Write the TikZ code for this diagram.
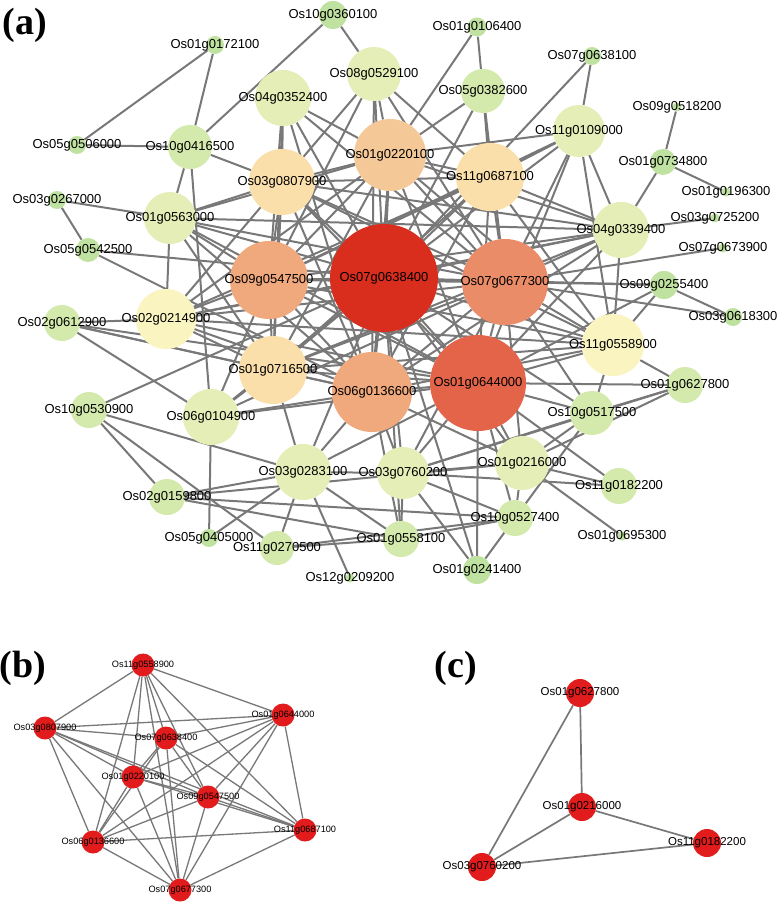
\documentclass[tikz,border=0pt]{standalone}
\usepackage{fontspec}
\setmainfont{Liberation Sans}
\newfontfamily\tnr{Liberation Serif}
\pgfdeclarelayer{bg}
\pgfdeclarelayer{edges}
\pgfsetlayers{bg,edges,main}
\definecolor{c1}{RGB}{217,45,30}
\definecolor{c2}{RGB}{227,100,72}
\definecolor{c3}{RGB}{235,140,105}
\definecolor{c4}{RGB}{240,168,125}
\definecolor{c5}{RGB}{245,200,152}
\definecolor{c6}{RGB}{250,223,170}
\definecolor{c7}{RGB}{250,245,192}
\definecolor{c8}{RGB}{228,238,182}
\definecolor{c9}{RGB}{212,234,172}
\definecolor{c10}{RGB}{192,226,160}
\definecolor{edgegray}{RGB}{120,120,120}
\definecolor{hubred}{RGB}{226,28,28}
\def\alist{Os07g0638400/384/278/54/c1,
Os01g0644000/478/383/48/c2,
Os07g0677300/505/282/43/c3,
Os06g0136600/372/392/40/c4,
Os09g0547500/269/280/39/c4,
Os01g0220100/390/155/36/c5,
Os03g0807900/282/182/33/c6,
Os11g0687100/490/177/34/c6,
Os01g0716500/273/370/34/c6,
Os11g0558900/613/345/31/c7,
Os02g0214900/166/319/30/c7,
Os04g0339400/621/230/28/c8,
Os06g0104900/211/417/28/c8,
Os03g0283100/303/472/28/c8,
Os08g0529100/374/74/27/c8,
Os04g0352400/283/98/28/c8,
Os11g0109000/579/131/26/c8,
Os01g0563000/170/218/26/c8,
Os01g0216000/522/463/27/c8,
Os03g0760200/403/473/26/c8,
Os10g0416500/190/147/22/c9,
Os05g0382600/483/91/22/c9,
Os10g0517500/592/413/22/c9,
Os10g0527400/515/518/18/c9,
Os01g0558100/401/539/18/c9,
Os11g0270500/277/548/17/c9,
Os02g0159800/167/497/18/c9,
Os10g0530900/89/410/18/c9,
Os02g0612900/62/323/18/c9,
Os01g0627800/685/385/18/c9,
Os11g0182200/619/486/18/c9,
Os01g0241400/477/570/14/c10,
Os05g0542500/88/250/12/c10,
Os01g0734800/663/162/13/c10,
Os09g0255400/664/285/14/c10,
Os10g0360100/333/15/14/c10,
Os01g0172100/215/45/9/c10,
Os05g0506000/77/145/9/c10,
Os03g0267000/57/200/9/c10,
Os01g0106400/477/27/9.5/c10,
Os07g0638100/592/56/9/c10,
Os03g0618300/733/317/9/c10,
Os05g0405000/209/538/9/c10,
Os09g0518200/677/107/4.5/c10,
Os01g0196300/726/192/4.5/c10,
Os03g0725200/715/218/4.5/c10,
Os07g0673900/723/248/4.5/c10,
Os01g0695300/622/536/4.5/c10,
Os12g0209200/350/578/4.5/c10}
\def\clique{Os11g0558900,Os03g0807900,Os01g0644000,Os07g0638400,Os01g0220100,Os09g0547500,Os11g0687100,Os06g0136600,Os07g0677300}
\def\blist{Os11g0558900/143/665,Os03g0807900/45/728,Os01g0644000/283/715,Os07g0638400/166/738,Os01g0220100/133/777,Os09g0547500/208/797,Os11g0687100/305/830,Os06g0136600/93/842,Os07g0677300/180/890}
\def\clist{Os01g0627800/580/693,Os01g0216000/582/807,Os11g0182200/707/843,Os03g0760200/482/867}
\begin{document}
\begin{tikzpicture}[x=1pt,y=-1pt,
  vtx/.style={circle,draw=none,inner sep=0pt},
  lblA/.style={inner sep=0pt,font=\fontsize{13}{15}\selectfont},
  lblB/.style={inner sep=0pt,font=\fontsize{9.2}{11}\selectfont},
  lblC/.style={inner sep=0pt,font=\fontsize{11.5}{13}\selectfont},
  panel/.style={inner sep=0pt,font=\tnr\bfseries\fontsize{38}{40}\selectfont},
  edgeA/.style={draw=edgegray,line width=2pt},
  edgeB/.style={draw=edgegray,line width=1.3pt},
  edgeC/.style={draw=edgegray,line width=1.7pt}]
\begin{pgfonlayer}{bg}
\fill[white] (0,0) rectangle (778,904);
\end{pgfonlayer}
\useasboundingbox (0,0) rectangle (778,904);
% panel labels
\node[panel] (pa) at (25,25) {(a)};
\node[panel] (pb) at (23,668) {(b)};
\node[panel] (pc) at (456,668) {(c)};
% ---- panel (a) nodes
\foreach \n/\x/\y/\rad/\c in \alist {
  \node[vtx,fill=\c,minimum size={2*\rad pt}] (\n) at (\x,\y) {};
}
\foreach \n/\x/\y/\rad/\c in \alist {
  \node[lblA] (\n-t) at (\n) {\n};
}
% ---- panel (b) nodes
\foreach \n/\x/\y in \blist {
  \node[vtx,fill=hubred,minimum size=23pt] (b\n) at (\x,\y) {};
}
\foreach \n/\x/\y in \blist {
  \node[lblB] (b\n-t) at (b\n) {\n};
}
% ---- panel (c) nodes
\foreach \n/\x/\y in \clist {
  \node[vtx,fill=hubred,minimum size=28pt] (c\n) at (\x,\y) {};
}
\foreach \n/\x/\y in \clist {
  \node[lblC] (c\n-t) at (c\n) {\n};
}
\begin{pgfonlayer}{edges}
% clique in (a) and (b)
\foreach \p [count=\i] in \clique {
  \foreach \q [count=\j] in \clique {
    \ifnum\j>\i
      \draw[edgeA] (\p) -- (\q);
      \draw[edgeB] (b\p) -- (b\q);
    \fi
  }
}
\foreach \p/\q in {
Os07g0638400/Os01g0716500, Os07g0638400/Os02g0214900, Os07g0638400/Os04g0339400, Os07g0638400/Os06g0104900, Os07g0638400/Os03g0283100, Os07g0638400/Os08g0529100, Os07g0638400/Os04g0352400, Os07g0638400/Os11g0109000, Os07g0638400/Os01g0563000, Os07g0638400/Os01g0216000, Os07g0638400/Os03g0760200, Os07g0638400/Os05g0382600, Os07g0638400/Os10g0517500, Os07g0638400/Os09g0255400, Os07g0638400/Os07g0638100, Os07g0638400/Os10g0530900, Os07g0638400/Os05g0542500, Os07g0638400/Os01g0558100, Os07g0638400/Os01g0241400,
Os01g0644000/Os01g0716500, Os01g0644000/Os02g0214900, Os01g0644000/Os04g0339400, Os01g0644000/Os06g0104900, Os01g0644000/Os03g0283100, Os01g0644000/Os11g0109000, Os01g0644000/Os01g0216000, Os01g0644000/Os03g0760200, Os01g0644000/Os10g0517500, Os01g0644000/Os10g0527400, Os01g0644000/Os01g0627800, Os01g0644000/Os11g0182200, Os01g0644000/Os01g0241400, Os01g0644000/Os09g0255400, Os01g0644000/Os02g0612900, Os01g0644000/Os01g0563000,
Os07g0677300/Os01g0716500, Os07g0677300/Os02g0214900, Os07g0677300/Os04g0339400, Os07g0677300/Os04g0352400, Os07g0677300/Os11g0109000, Os07g0677300/Os01g0216000, Os07g0677300/Os03g0760200, Os07g0677300/Os05g0382600, Os07g0677300/Os08g0529100, Os07g0677300/Os10g0517500, Os07g0677300/Os09g0255400, Os07g0677300/Os03g0618300, Os07g0677300/Os07g0673900, Os07g0677300/Os01g0563000, Os07g0677300/Os06g0104900,
Os06g0136600/Os01g0716500, Os06g0136600/Os02g0214900, Os06g0136600/Os04g0339400, Os06g0136600/Os06g0104900, Os06g0136600/Os03g0283100, Os06g0136600/Os03g0760200, Os06g0136600/Os01g0216000, Os06g0136600/Os02g0612900, Os06g0136600/Os08g0529100, Os06g0136600/Os01g0563000, Os06g0136600/Os01g0558100, Os06g0136600/Os05g0542500, Os06g0136600/Os04g0352400,
Os09g0547500/Os01g0716500, Os09g0547500/Os02g0214900, Os09g0547500/Os04g0339400, Os09g0547500/Os06g0104900, Os09g0547500/Os04g0352400, Os09g0547500/Os01g0563000, Os09g0547500/Os08g0529100, Os09g0547500/Os11g0109000,
Os01g0220100/Os04g0352400, Os01g0220100/Os08g0529100, Os01g0220100/Os11g0109000, Os01g0220100/Os05g0382600, Os01g0220100/Os01g0106400, Os01g0220100/Os01g0563000, Os01g0220100/Os01g0716500, Os01g0220100/Os02g0214900, Os01g0220100/Os04g0339400,
Os03g0807900/Os10g0416500, Os03g0807900/Os01g0563000, Os03g0807900/Os04g0352400, Os03g0807900/Os08g0529100, Os03g0807900/Os01g0716500, Os03g0807900/Os02g0214900, Os03g0807900/Os04g0339400,
Os11g0687100/Os05g0382600, Os11g0687100/Os11g0109000, Os11g0687100/Os04g0339400, Os11g0687100/Os08g0529100, Os11g0687100/Os01g0716500, Os11g0687100/Os02g0214900,
Os01g0716500/Os02g0214900, Os01g0716500/Os06g0104900, Os01g0716500/Os02g0612900, Os01g0716500/Os04g0339400, Os01g0716500/Os03g0283100, Os01g0716500/Os04g0352400, Os01g0716500/Os01g0563000,
Os11g0558900/Os04g0339400, Os11g0558900/Os10g0517500, Os11g0558900/Os11g0109000, Os11g0558900/Os01g0627800, Os11g0558900/Os09g0255400, Os11g0558900/Os01g0716500, Os11g0558900/Os02g0214900,
Os02g0214900/Os02g0612900, Os02g0214900/Os01g0563000, Os02g0214900/Os04g0339400,
Os04g0339400/Os11g0109000, Os04g0339400/Os01g0734800, Os04g0339400/Os03g0725200, Os04g0339400/Os01g0563000,
Os06g0104900/Os02g0612900, Os06g0104900/Os05g0405000, Os06g0104900/Os10g0416500,
Os03g0283100/Os02g0159800, Os03g0283100/Os05g0405000, Os03g0283100/Os11g0270500, Os03g0283100/Os12g0209200, Os03g0283100/Os03g0760200, Os03g0283100/Os01g0558100, Os03g0283100/Os10g0530900,
Os08g0529100/Os10g0360100, Os11g0109000/Os07g0638100,
Os01g0563000/Os10g0416500, Os01g0563000/Os03g0267000,
Os01g0216000/Os10g0517500, Os01g0216000/Os11g0182200, Os01g0216000/Os03g0760200, Os01g0216000/Os01g0695300, Os01g0216000/Os10g0527400, Os01g0216000/Os01g0627800, Os01g0216000/Os02g0159800,
Os03g0760200/Os11g0182200, Os03g0760200/Os10g0527400, Os03g0760200/Os01g0558100, Os03g0760200/Os01g0241400, Os03g0760200/Os01g0627800, Os03g0760200/Os10g0517500,
Os10g0416500/Os10g0360100, Os10g0416500/Os01g0172100, Os10g0416500/Os05g0506000,
Os05g0382600/Os01g0106400,
Os10g0517500/Os01g0627800, Os10g0517500/Os10g0527400,
Os10g0527400/Os01g0241400, Os10g0527400/Os01g0558100, Os10g0527400/Os02g0159800,
Os01g0558100/Os11g0270500, Os01g0558100/Os02g0159800,
Os11g0270500/Os10g0527400, Os02g0159800/Os10g0530900, Os10g0530900/Os11g0270500,
Os05g0542500/Os03g0267000,
Os01g0734800/Os09g0518200, Os01g0734800/Os01g0196300,
Os09g0255400/Os03g0618300, Os01g0172100/Os05g0506000}
  \draw[edgeA] (\p) -- (\q);
% panel (c)
\foreach \p/\q in {Os01g0627800/Os01g0216000, Os01g0627800/Os03g0760200, Os01g0216000/Os03g0760200, Os01g0216000/Os11g0182200, Os03g0760200/Os11g0182200}
  \draw[edgeC] (c\p) -- (c\q);
\end{pgfonlayer}
\end{tikzpicture}
\end{document}
